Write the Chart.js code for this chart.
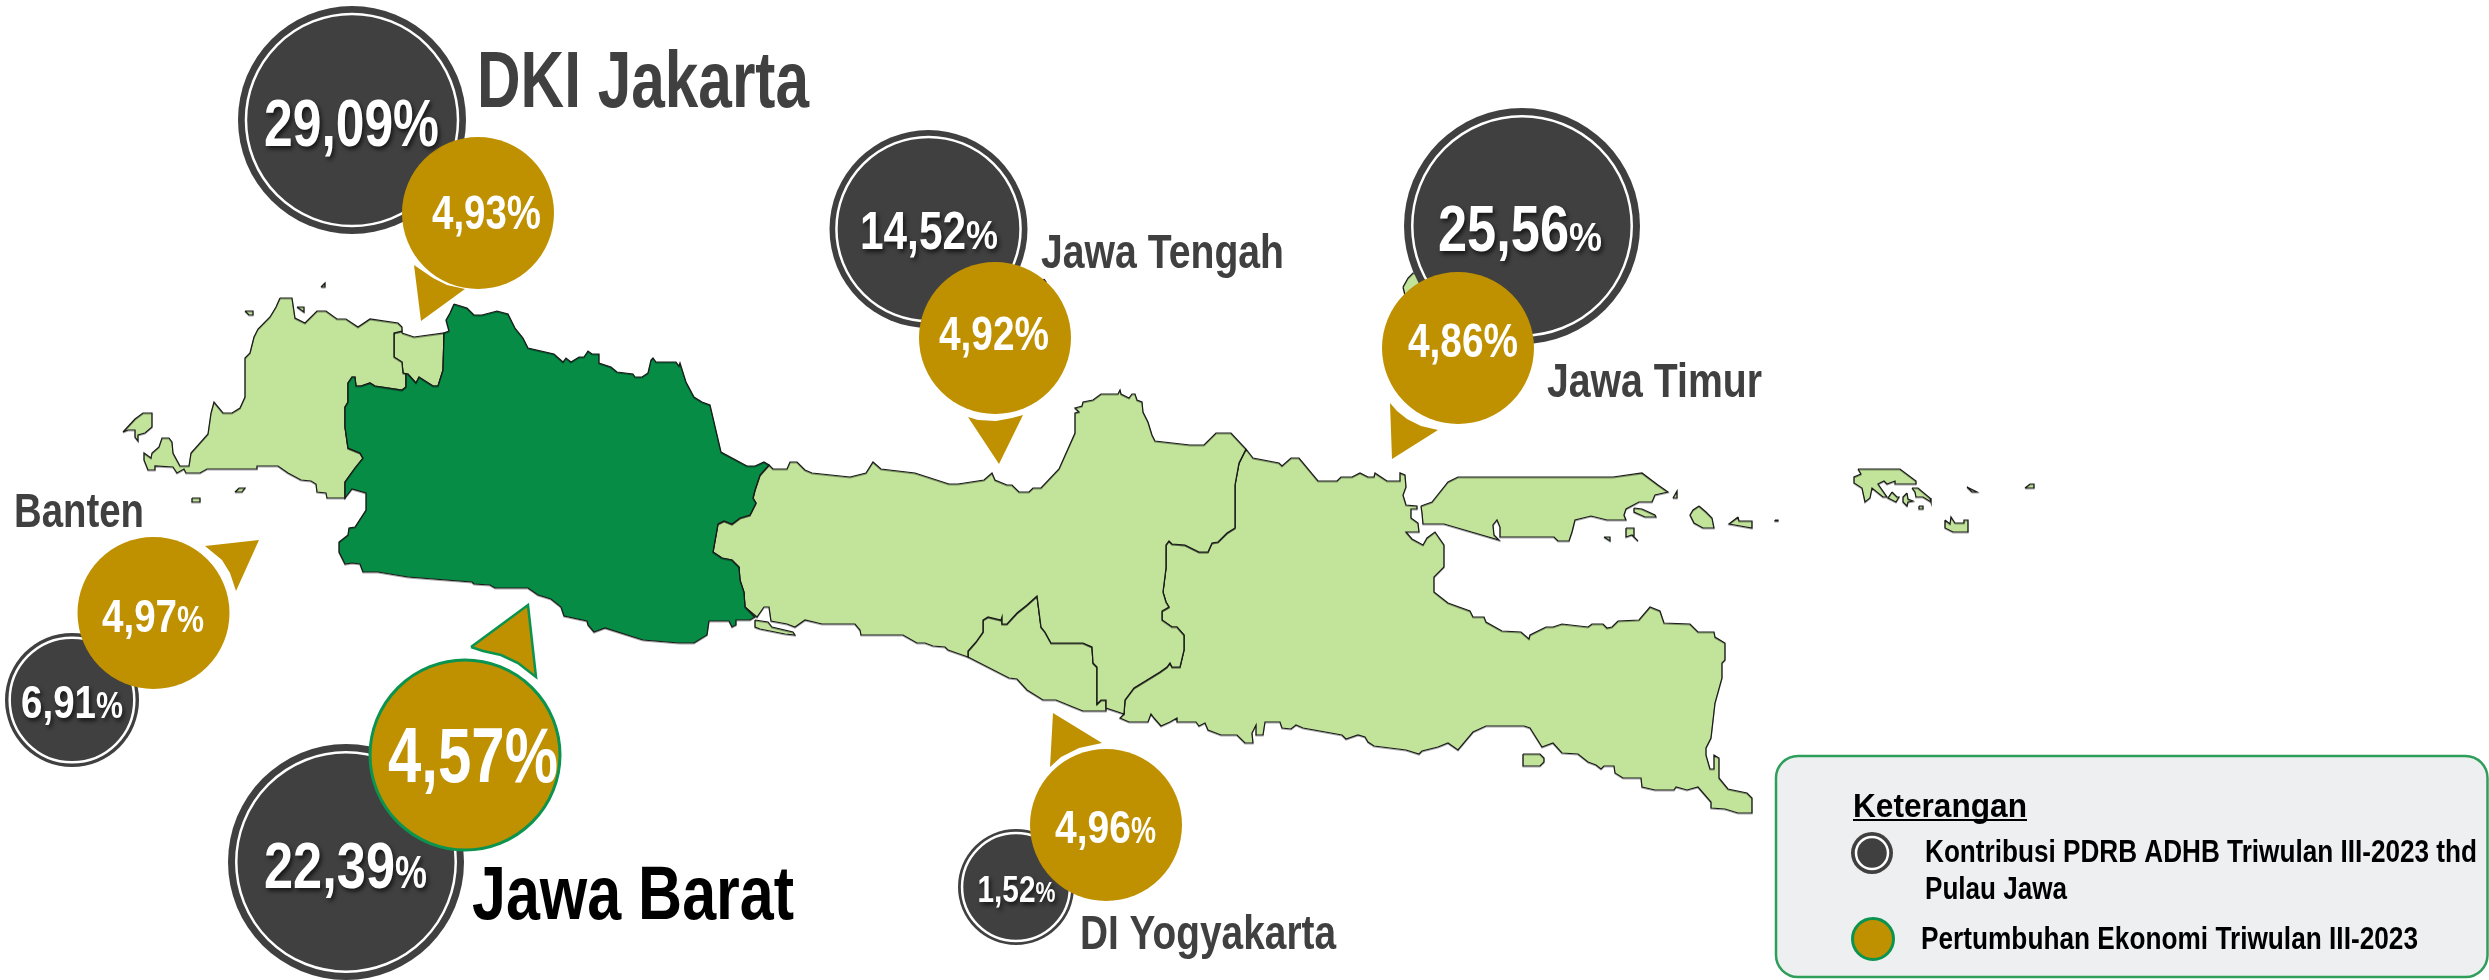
<!DOCTYPE html>
<html>
<head>
<meta charset="utf-8">
<title>Pertumbuhan Ekonomi Pulau Jawa</title>
<script src="https://cdn.jsdelivr.net/npm/chart.js@4/dist/chart.umd.min.js"></script>
<style>
  html, body { margin: 0; padding: 0; background: #fff; }
  canvas { display: block; }
</style>
</head>
<body>
<canvas id="map-chart" width="2489" height="980"></canvas>
<script>
// values
const provinces = ["DKI Jakarta", "Jawa Tengah", "Jawa Timur", "Banten", "Jawa Barat", "DI Yogyakarta"];
const contribution = [29.09, 14.52, 25.56, 6.91, 22.39, 1.52];
const growth = [4.93, 4.92, 4.86, 4.97, 4.57, 4.96];

// bubble layout, same order as provinces
const contributionCentres = [[352, 120], [928.5, 229], [1522, 226], [72, 700], [346, 862], [1016, 887]];
const contributionRadius = [114, 99, 118, 67, 118, 58];
const growthCentres = [[478, 213], [995, 338], [1458, 348], [153.5, 613], [465, 755], [1106, 825]];
const growthRadius = [76, 76, 76, 76, 95, 76];

// map outlines
const bantenOutline = [[280,298],[292,298],[295,318],[305,323],[317,311],[326,311],[337,319],[346,319],[358,327],[370,319],[398,323],[402,327],[402,331],[394,333],[394,357],[402,362],[403,373],[406,374],[406,387],[402,390],[375,386],[370,383],[361,386],[356,386],[355,377],[352,377],[348,383],[348,402],[345,407],[345,427],[348,448],[360,453],[363,458],[355,468],[345,482],[345,498],[327,498],[326,493],[317,492],[316,484],[311,481],[301,480],[288,473],[278,466],[257,466],[257,469],[207,469],[200,473],[186,473],[184,469],[177,473],[173,467],[155,466],[155,470],[148,470],[144,460],[144,453],[151,458],[152,453],[159,447],[162,438],[169,438],[172,442],[173,453],[180,466],[189,466],[191,453],[208,434],[211,413],[214,402],[223,413],[232,413],[240,408],[245,397],[245,358],[250,353],[254,337],[258,329],[270,317],[276,307],[280,298]];
const jakartaOutline = [[402,333],[414,337],[444,333],[443,370],[438,386],[433,386],[419,377],[416,383],[408,374],[403,373],[402,362],[394,357],[394,333],[402,331],[402,333]];
const jawaBaratOutline = [[454,304],[467,308],[474,315],[482,315],[497,311],[508,314],[515,328],[523,338],[528,348],[554,354],[563,362],[566,358],[571,362],[579,357],[584,357],[588,351],[592,354],[599,354],[599,363],[611,367],[617,372],[633,374],[635,377],[642,377],[648,373],[651,360],[653,358],[656,362],[676,362],[679,366],[680,363],[686,382],[694,397],[702,402],[710,405],[721,452],[747,466],[755,466],[764,462],[769,465],[760,475],[755,490],[753,498],[756,503],[750,515],[740,518],[732,524],[724,521],[718,524],[713,552],[722,558],[732,560],[739,567],[740,580],[744,592],[745,607],[755,617],[750,620],[736,620],[736,625],[732,627],[729,621],[709,621],[707,635],[694,643],[679,643],[643,640],[605,628],[594,632],[588,625],[587,621],[564,616],[561,607],[551,599],[538,595],[528,588],[495,588],[490,585],[474,584],[472,582],[408,577],[378,572],[363,572],[360,564],[352,563],[345,564],[339,552],[339,542],[348,535],[349,528],[355,527],[366,510],[366,493],[352,489],[345,498],[345,482],[355,468],[363,458],[360,453],[348,448],[345,427],[345,407],[348,402],[348,383],[352,377],[355,377],[356,386],[361,386],[370,383],[375,386],[402,390],[406,387],[406,374],[408,374],[416,383],[419,377],[433,386],[438,386],[443,370],[444,333],[449,331],[446,320],[450,313],[454,304]];
const jawaTengahOutline = [[769,465],[773,469],[787,469],[790,462],[797,462],[805,470],[812,473],[850,477],[866,473],[873,462],[881,469],[915,473],[949,484],[958,484],[984,480],[992,473],[995,480],[1007,485],[1012,485],[1019,492],[1029,492],[1033,488],[1041,488],[1059,469],[1075,433],[1075,413],[1079,412],[1075,408],[1082,406],[1083,402],[1093,400],[1101,394],[1118,394],[1120,390],[1121,394],[1129,398],[1132,394],[1135,394],[1137,400],[1142,402],[1143,412],[1148,422],[1152,435],[1155,441],[1190,445],[1204,445],[1216,433],[1231,433],[1246,449],[1239,463],[1235,485],[1235,528],[1227,533],[1218,542],[1212,543],[1208,552],[1199,552],[1185,545],[1172,544],[1169,541],[1166,545],[1166,568],[1163,592],[1166,602],[1169,607],[1162,611],[1162,620],[1172,627],[1177,627],[1184,635],[1184,650],[1180,667],[1172,667],[1170,663],[1167,667],[1160,672],[1147,680],[1134,688],[1125,700],[1124,714],[1106,708],[1106,700],[1101,700],[1097,704],[1097,667],[1093,663],[1092,647],[1083,643],[1051,643],[1045,632],[1041,627],[1037,596],[1027,605],[1017,613],[1007,624],[1002,624],[1002,617],[1001,620],[988,617],[983,620],[983,632],[976,642],[968,651],[968,657],[948,650],[945,647],[933,646],[925,643],[917,643],[903,635],[861,635],[860,630],[855,624],[822,624],[805,620],[795,627],[787,624],[771,621],[769,607],[764,607],[757,617],[745,607],[744,592],[740,580],[739,567],[732,560],[722,558],[713,552],[718,524],[724,521],[732,524],[740,518],[750,515],[756,503],[753,498],[755,490],[760,475],[769,465]];
const yogyakartaOutline = [[968,657],[968,651],[976,642],[983,632],[983,620],[988,617],[1001,620],[1002,617],[1002,624],[1007,624],[1017,613],[1027,605],[1037,596],[1041,627],[1045,632],[1051,643],[1083,643],[1092,647],[1093,663],[1097,667],[1097,704],[1101,700],[1106,700],[1106,711],[1083,711],[1073,707],[1056,700],[1043,700],[1027,690],[1017,679],[1009,678],[968,657]];
const jawaTimurOutline = [[1246,449],[1253,458],[1279,463],[1282,466],[1291,458],[1299,458],[1318,481],[1337,481],[1341,477],[1352,477],[1360,473],[1368,477],[1374,477],[1375,473],[1381,477],[1387,481],[1400,481],[1400,473],[1405,475],[1406,487],[1403,495],[1406,505],[1417,506],[1417,509],[1411,509],[1411,518],[1418,523],[1419,532],[1406,532],[1412,539],[1423,545],[1427,538],[1435,532],[1444,545],[1444,567],[1434,577],[1434,592],[1448,603],[1470,611],[1473,617],[1484,617],[1486,622],[1502,631],[1521,632],[1529,639],[1530,635],[1546,627],[1553,627],[1562,624],[1588,627],[1592,624],[1603,624],[1607,628],[1612,627],[1618,621],[1639,620],[1650,607],[1660,611],[1664,623],[1690,624],[1698,632],[1714,632],[1715,637],[1725,643],[1725,660],[1722,663],[1722,678],[1715,703],[1711,738],[1706,748],[1706,755],[1710,769],[1714,769],[1714,755],[1719,758],[1719,778],[1728,789],[1747,793],[1752,798],[1752,813],[1738,813],[1725,809],[1711,808],[1711,802],[1698,787],[1687,790],[1676,787],[1674,790],[1655,790],[1642,787],[1641,778],[1623,778],[1615,773],[1614,766],[1604,766],[1601,769],[1596,765],[1588,762],[1578,754],[1562,753],[1553,743],[1542,747],[1530,728],[1524,726],[1486,726],[1473,732],[1458,750],[1448,743],[1438,747],[1422,751],[1419,754],[1406,750],[1390,748],[1374,746],[1368,742],[1365,737],[1358,735],[1346,739],[1342,735],[1303,728],[1296,725],[1291,729],[1282,728],[1280,722],[1265,722],[1263,735],[1256,735],[1256,725],[1252,733],[1253,743],[1245,743],[1237,735],[1221,735],[1208,730],[1205,723],[1199,726],[1196,722],[1177,722],[1177,718],[1170,722],[1161,726],[1154,718],[1151,714],[1148,722],[1129,722],[1120,718],[1124,714],[1125,700],[1134,688],[1147,680],[1160,672],[1167,667],[1170,663],[1172,667],[1180,667],[1184,650],[1184,635],[1177,627],[1172,627],[1162,620],[1162,611],[1169,607],[1166,602],[1163,592],[1166,568],[1166,545],[1169,541],[1172,544],[1185,545],[1199,552],[1208,552],[1212,543],[1218,542],[1227,533],[1235,528],[1235,485],[1239,463],[1246,449]];
const maduraOutline = [[1421,506],[1432,502],[1448,482],[1458,477],[1613,477],[1642,473],[1654,482],[1658,485],[1668,492],[1655,495],[1652,502],[1639,502],[1626,509],[1624,515],[1626,520],[1607,520],[1591,516],[1575,520],[1572,532],[1569,541],[1558,541],[1554,537],[1500,537],[1500,527],[1497,520],[1493,525],[1494,535],[1499,540],[1444,524],[1423,524],[1422,513],[1421,506]];
const smallIslands = [
  [[123,432],[135,419],[143,413],[152,413],[152,427],[145,433],[138,435],[138,441],[135,437],[135,430],[128,430],[123,432]],
  [[192,498],[200,498],[200,502],[192,502],[192,498]],
  [[235,492],[239,488],[245,488],[242,492],[235,492]],
  [[245,311],[253,311],[253,315],[249,315],[245,311]],
  [[297,307],[304,307],[304,312],[297,307]],
  [[321,287],[325,283],[325,287],[321,287]],
  [[755,620],[768,622],[772,627],[793,632],[795,635],[785,634],[770,631],[760,629],[755,627],[755,620]],
  [[1044,279],[1046,282],[1043,282],[1044,279]],
  [[1403,287],[1408,278],[1413,273],[1420,273],[1420,295],[1405,295],[1403,287]],
  [[1634,508],[1642,509],[1655,515],[1656,517],[1645,517],[1634,512],[1634,508]],
  [[1699,506],[1706,512],[1712,518],[1714,528],[1703,528],[1694,523],[1690,515],[1693,510],[1699,506]],
  [[1738,517],[1739,521],[1752,521],[1752,528],[1729,524],[1738,517]],
  [[1626,528],[1634,528],[1634,537],[1638,541],[1632,535],[1626,537],[1626,528]],
  [[1604,537],[1610,537],[1610,541],[1604,537]],
  [[1673,498],[1677,491],[1677,498],[1673,498]],
  [[1523,754],[1540,754],[1544,758],[1544,762],[1540,766],[1523,766],[1523,754]],
  [[1858,469],[1900,469],[1916,481],[1916,484],[1895,484],[1895,481],[1887,484],[1884,481],[1878,484],[1887,497],[1883,497],[1872,488],[1870,498],[1865,502],[1862,488],[1854,483],[1854,477],[1861,474],[1858,469]],
  [[1892,492],[1897,497],[1899,497],[1896,502],[1888,498],[1892,492]],
  [[1907,493],[1908,499],[1913,501],[1908,502],[1907,506],[1903,502],[1903,497],[1907,493]],
  [[1912,488],[1918,488],[1930,498],[1931,502],[1923,497],[1916,497],[1915,492],[1912,488]],
  [[1919,506],[1923,506],[1923,509],[1919,509],[1919,506]],
  [[1945,520],[1950,524],[1951,517],[1955,523],[1964,523],[1964,520],[1968,520],[1968,532],[1953,532],[1945,528],[1945,520]],
  [[1967,487],[1977,492],[1972,492],[1967,487]],
  [[2025,488],[2030,484],[2034,484],[2034,488],[2025,488]],
  [[1775,520],[1778,520],[1778,521],[1775,521],[1775,520]],
];

// callout tails, same order as provinces
const growthTails = [
  [[414,265],[421,321],[465,289],[447,285],[433,278],[414,265]],
  [[968,417],[999,464],[1023,415],[1012,418],[996,421],[978,420],[968,417]],
  [[1390,403],[1392,459],[1438,430],[1421,426],[1407,419],[1397,411],[1390,403]],
  [[205,546],[259,540],[236,591],[230,573],[222,560],[205,546]],
  [[471,647],[528,605],[536,677],[518,663],[501,655],[483,651],[471,647]],
  [[1053,713],[1102,743],[1079,748],[1061,757],[1050,767],[1053,713]],
];

const DARK = "#404040";
const GOLD = "#BF9000";
const LIGHT_GREEN = "#C1E39A";
const DARK_GREEN = "#068C45";
const LINE_GREEN = "#0B9350";
const FONT = '"Liberation Sans", Arial, sans-serif';

function toPoints(outline) {
  return outline.map(([x, y]) => ({ x, y }));
}

function shape(outline, fill, order, border = "#1a1a1a", width = 1.2, isLand = false) {
  return {
    type: "scatter",
    data: toPoints(outline),
    showLine: true,
    fill: "shape",
    backgroundColor: fill,
    borderColor: border,
    borderWidth: width,
    tension: 0,
    pointRadius: 0,
    pointHoverRadius: 0,
    order: order,
    clip: false,
    isLand: isLand,
  };
}

function discs(centres, radii, fill, order, border = fill, width = 0) {
  return {
    type: "bubble",
    data: centres.map(([x, y], i) => ({ x, y, r: radii[i] })),
    backgroundColor: fill,
    borderColor: border,
    borderWidth: width,
    hoverRadius: 0,
    order: order,
    clip: false,
  };
}

const landShapes = [bantenOutline, jawaTengahOutline, yogyakartaOutline, jawaTimurOutline, maduraOutline, jakartaOutline, ...smallIslands];

// legend marks
const legendDark = [[1872, 853]];
const legendGold = [[1873, 939]];

const datasets = [
  ...landShapes.map((outline) => shape(outline, LIGHT_GREEN, 60, "#1a1a1a", 1.2, true)),
  shape(jawaBaratOutline, DARK_GREEN, 55, "#1a1a1a", 1.2, true),
  ...growthTails.map((tail, i) =>
    i === 4 ? shape(tail, GOLD, 50, LINE_GREEN, 2.5) : shape(tail, GOLD, 50, GOLD, 0)
  ),
  discs(contributionCentres, contributionRadius, DARK, 30),
  discs(contributionCentres, contributionRadius.map((r) => r * 0.93), DARK, 29, "#fff", 2.5),
  discs(growthCentres, growthRadius, GOLD, 10),
  discs([growthCentres[4]], [growthRadius[4]], GOLD, 9, LINE_GREEN, 3),
  discs(legendDark, [21], DARK, 8),
  discs(legendDark, [16], DARK, 7, "#fff", 2.5),
  discs(legendGold, [20.5], GOLD, 6, LINE_GREEN, 3),
];

function label(ctx, text, x, y, size, width, color, shadow) {
  ctx.save();
  ctx.font = `bold ${size}px ${FONT}`;
  ctx.fillStyle = color;
  ctx.textAlign = "left";
  ctx.textBaseline = "alphabetic";
  if (shadow) {
    ctx.shadowColor = "rgba(0,0,0,0.65)";
    ctx.shadowBlur = 4;
    ctx.shadowOffsetX = 2;
    ctx.shadowOffsetY = 3;
  }
  ctx.fillText(text, x, y, width);
  ctx.restore();
}

const percent = (v) => v.toFixed(2).replace(".", ",");

// [x, baseline, size, number width, % size, % width]; no % size means one run
const contributionText = [
  [264, 146, 67, 175],
  [860, 249, 54, 106, 40, 32],
  [1438, 251, 65, 131, 41, 33],
  [21, 718, 47, 75, 36, 27],
  [264, 888, 65, 131, 47, 32],
  [977.5, 902, 37, 58, 29, 20],
];
const growthText = [
  [432, 229, 48, 109],
  [939, 350, 48, 110],
  [1408, 357, 48, 110],
  [102, 632, 47, 75, 37, 27],
  [388, 782, 77, 170],
  [1055, 843, 47, 76, 37, 25],
];
// [x, baseline, size, width, colour]
const provinceText = [
  [477, 107, 79, 332, DARK],
  [1041, 268, 49, 243, DARK],
  [1547, 397, 48, 215, DARK],
  [14, 527, 48, 130, DARK],
  [472, 919, 76, 322, "#000"],
  [1080, 949, 49, 256, DARK],
];

function valueLabel(ctx, value, spec, shadow) {
  const [x, y, size, width, pctSize, pctWidth] = spec;
  if (!pctSize) {
    label(ctx, percent(value) + "%", x, y, size, width, "#fff", shadow);
    return;
  }
  label(ctx, percent(value), x, y, size, width, "#fff", shadow);
  label(ctx, "%", x + width, y, pctSize, pctWidth, "#fff", shadow);
}

const legendBox = {
  id: "legendBox",
  beforeDatasetsDraw(chart) {
    const { ctx } = chart;
    ctx.save();
    ctx.beginPath();
    ctx.roundRect(1776, 756, 711.5, 221, 22);
    ctx.fillStyle = "#EEEFF1";
    ctx.fill();
    ctx.lineWidth = 2.5;
    ctx.strokeStyle = "#2E9E5B";
    ctx.stroke();
    ctx.restore();
  },
};

// soft grey edge the coastlines have in the picture
const landEdge = {
  id: "landEdge",
  beforeDatasetDraw(chart, args) {
    if (!chart.data.datasets[args.index].isLand) return;
    const { ctx } = chart;
    ctx.save();
    ctx.shadowColor = "rgba(0,0,0,0.35)";
    ctx.shadowOffsetY = 1;
  },
  afterDatasetDraw(chart, args) {
    if (!chart.data.datasets[args.index].isLand) return;
    chart.ctx.restore();
  },
};

const chartText = {
  id: "chartText",
  afterDatasetsDraw(chart) {
    const { ctx } = chart;
    provinces.forEach((name, i) => {
      const [x, y, size, width, color] = provinceText[i];
      label(ctx, name, x, y, size, width, color, false);
      valueLabel(ctx, contribution[i], contributionText[i], true);
      valueLabel(ctx, growth[i], growthText[i], false);
    });
    label(ctx, "Keterangan", 1853, 817, 33, 174, "#000", false);
    ctx.fillStyle = "#000";
    ctx.fillRect(1853, 819, 174, 2);
    label(ctx, "Kontribusi PDRB ADHB Triwulan III-2023 thd", 1925, 862, 31, 552, "#000", false);
    label(ctx, "Pulau Jawa", 1925, 899, 31, 142, "#000", false);
    label(ctx, "Pertumbuhan Ekonomi Triwulan III-2023", 1921, 949, 31, 497, "#000", false);
  },
};

new Chart(document.getElementById("map-chart"), {
  type: "scatter",
  data: { datasets },
  options: {
    responsive: false,
    animation: false,
    events: [],
    layout: { padding: 0, autoPadding: false },
    plugins: {
      legend: { display: false },
      tooltip: { enabled: false },
      title: { display: false },
    },
    scales: {
      x: { type: "linear", display: false, min: 0, max: 2489 },
      y: { type: "linear", display: false, min: 0, max: 980, reverse: true },
    },
  },
  plugins: [legendBox, landEdge, chartText],
});
</script>
</body>
</html>
